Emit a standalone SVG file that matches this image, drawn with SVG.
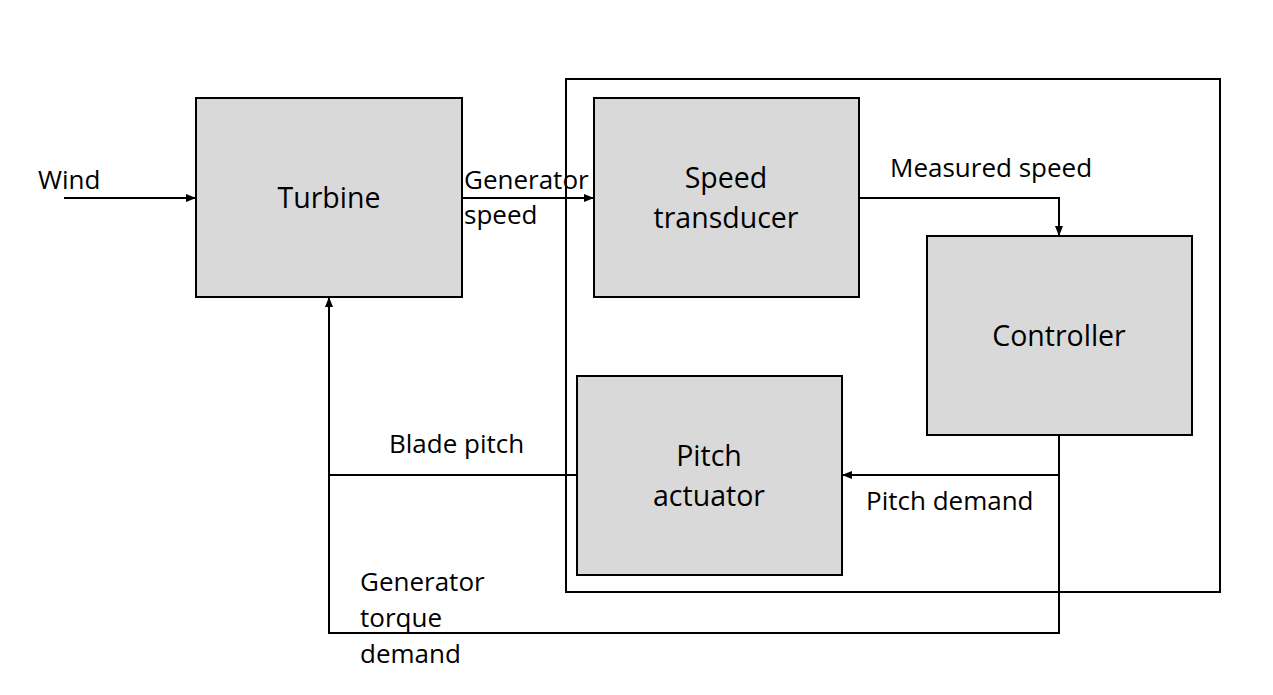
<svg xmlns="http://www.w3.org/2000/svg" width="1273" height="695" viewBox="0 0 1273 695">
<style>
.box{fill:#d9d9d9;stroke:#000;stroke-width:2}
.frame{fill:none;stroke:#000;stroke-width:2}
.ln{fill:none;stroke:#000;stroke-width:2}
text{font-family:"Open Sans","Noto Sans",sans-serif;font-size:26px;fill:#000}
.c{text-anchor:middle;font-size:28.5px}
</style>
<defs>
<marker id="ah" viewBox="0 0 10 10" refX="10" refY="5" markerWidth="5" markerHeight="5" orient="auto" markerUnits="strokeWidth">
<path d="M0,1 L10,5 L0,9 Z" fill="#000"/>
</marker>
</defs>
<rect x="0" y="0" width="1273" height="695" fill="#fff"/>
<g id="frame"><rect class="frame" x="566" y="79" width="654" height="513"/></g>
<g id="turbine"><rect class="box" x="196" y="98" width="266" height="199"/><text class="c" x="329" y="208">Turbine</text></g>
<g id="speed-transducer"><rect class="box" x="594" y="98" width="265" height="199"/><text class="c" x="726" y="188">Speed</text><text class="c" x="726" y="228">transducer</text></g>
<g id="controller"><rect class="box" x="927" y="236" width="265" height="199"/><text class="c" x="1059" y="346">Controller</text></g>
<g id="pitch-actuator"><rect class="box" x="577" y="376" width="265" height="199"/><text class="c" x="709" y="466">Pitch</text><text class="c" x="709" y="506">actuator</text></g>
<g id="connectors">
<line class="ln" x1="64" y1="198" x2="196" y2="198" marker-end="url(#ah)"/>
<line class="ln" x1="462" y1="198" x2="594" y2="198" marker-end="url(#ah)"/>
<polyline class="ln" points="859,198 1059,198 1059,236" marker-end="url(#ah)"/>
<polyline class="ln" points="1059,435 1059,475 842,475" marker-end="url(#ah)"/>
<polyline class="ln" points="1059,475 1059,633 329,633 329,297" marker-end="url(#ah)"/>
<line class="ln" x1="577" y1="475" x2="329" y2="475"/>
</g>
<g id="labels">
<text x="38" y="189">Wind</text>
<text x="464" y="189">Generator</text>
<text x="464" y="224">speed</text>
<text x="890" y="177">Measured speed</text>
<text x="389" y="453">Blade pitch</text>
<text x="866" y="510">Pitch demand</text>
<text x="360" y="591">Generator</text>
<text x="360" y="627">torque</text>
<text x="360" y="663">demand</text>
</g>
</svg>
